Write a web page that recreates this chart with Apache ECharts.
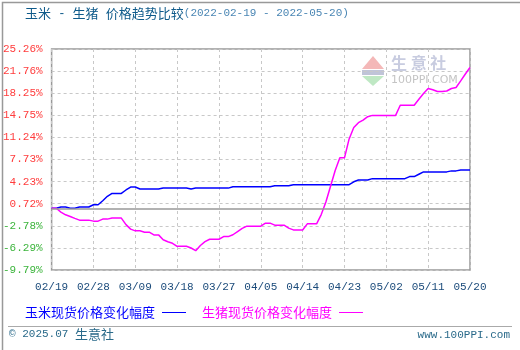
<!DOCTYPE html>
<html><head><meta charset="utf-8">
<script src="https://cdn.jsdelivr.net/npm/echarts@6/dist/echarts.min.js"></script>
<style>html,body{margin:0;padding:0;background:#fff}#c{width:520px;height:350px}</style>
</head><body><div id="c"></div>
<script>
// ---- data ----
const startDate = '2022-02-19';
const dayCount = 91;
const yTickLabels = ['-9.79%','-6.29%','-2.78%','0.72%','4.23%','7.73%','11.24%','14.75%','18.25%','21.76%','25.26%'];
const yMin = -9.79, yMax = 25.26, yStep = 3.505;
const cornSeriesName = '玉米现货价格变化幅度';
const porkSeriesName = '生猪现货价格变化幅度';
const cornValues = [
 0,0,0.2,0.2,0,0,0.2,0.2,0.2,0.56,
 0.56,1.2,1.9,2.36,2.36,2.36,2.9,3.37,3.37,3.05,
 3.05,3.05,3.05,3.05,3.2,3.2,3.2,3.2,3.2,3.2,
 3.05,3.2,3.2,3.2,3.2,3.2,3.2,3.2,3.2,3.42,
 3.42,3.42,3.42,3.42,3.42,3.42,3.42,3.42,3.58,3.58,
 3.58,3.58,3.74,3.74,3.74,3.74,3.74,3.74,3.74,3.74,
 3.74,3.74,3.74,3.74,3.74,4.2,4.49,4.49,4.49,4.7,
 4.7,4.7,4.7,4.7,4.7,4.7,4.7,5.02,5.02,5.4,
 5.77,5.77,5.77,5.77,5.77,5.77,5.93,5.93,6.08,6.08,
 6.08
];
const porkValues = [
 0,0,-0.6,-1.04,-1.3,-1.6,-1.88,-1.88,-1.88,-2.04,
 -2.04,-1.72,-1.72,-1.56,-1.56,-1.56,-2.6,-3.31,-3.58,-3.58,
 -3.79,-3.79,-4.22,-4.22,-5.0,-5.3,-5.55,-6.03,-6.03,-6.03,
 -6.3,-6.72,-5.9,-5.3,-4.91,-4.91,-4.91,-4.49,-4.49,-4.2,
 -3.7,-3.2,-2.84,-2.84,-2.84,-2.84,-2.36,-2.36,-2.68,-2.68,
 -2.68,-3.15,-3.43,-3.45,-3.45,-2.47,-2.47,-2.47,-1.0,1.0,
 3.5,6.0,8.0,8.0,11.0,12.8,13.57,13.99,14.52,14.73,
 14.73,14.73,14.73,14.73,14.73,16.33,16.33,16.33,16.33,17.3,
 18.2,18.99,18.8,18.51,18.51,18.6,19.0,19.15,20.2,21.3,
 22.33
];
// ---- categories (MM/DD, one per day) ----
const categories = [];
(function(){
  const d0 = new Date(startDate + 'T00:00:00Z');
  for (let i = 0; i < dayCount; i++) {
    const d = new Date(d0.getTime() + i * 86400000);
    const m = String(d.getUTCMonth() + 1).padStart(2, '0');
    const dd = String(d.getUTCDate()).padStart(2, '0');
    categories.push(m + '/' + dd);
  }
})();

const chart = echarts.init(document.getElementById('c'), null, {renderer: 'canvas'});
const monoFont = '"Liberation Mono","DejaVu Sans Mono",monospace';
const cjkFont = '"Noto Sans CJK SC","Noto Sans",sans-serif';

chart.setOption({
  animation: false,
  backgroundColor: '#fff',
  grid: {left: 50, right: 50, top: 49, bottom: 80, show: true, borderColor: '#999', borderWidth: 1.5, containLabel: false},
  xAxis: {
    type: 'category', data: categories, boundaryGap: false,
    axisLine: {show: false}, axisTick: {show: false},
    axisLabel: {interval: 8, color: '#1a4a7a', fontFamily: monoFont, fontSize: 11, margin: 12, showMaxLabel: true},
    splitLine: {show: true, interval: 8, lineStyle: {color: '#c8c8c8', type: [3, 3], width: 1}}
  },
  yAxis: {
    type: 'value', min: yMin, max: yMax, interval: yStep,
    axisLine: {show: false}, axisTick: {show: false},
    axisLabel: {
      fontFamily: monoFont, fontSize: 11, margin: 9,
      formatter: function (v) {
        const i = Math.round((v - yMin) / yStep);
        return (i >= 0 && i < yTickLabels.length) ? yTickLabels[i] : '';
      },
      color: function (v) { return v < 0 ? '#3cb43c' : '#ff3c3c'; }
    },
    splitLine: {show: true, lineStyle: {color: '#c8c8c8', type: [3, 3], width: 1}}
  },
  legend: {
    left: 20, top: 301, align: 'right', itemWidth: 24, itemHeight: 1, itemGap: 16,
    icon: 'rect',
    textStyle: {fontFamily: cjkFont, fontSize: 13, padding: [0, 2, 0, 0]},
    data: [
      {name: cornSeriesName, textStyle: {color: '#0000ff'}},
      {name: porkSeriesName, textStyle: {color: '#ff00ff'}}
    ]
  },
  graphic: [
    {type: 'rect', left: 0, top: 0, shape: {width: 519, height: 349}, style: {fill: 'none', stroke: '#999', lineWidth: 1.5}, silent: true},
    {type: 'line', shape: {x1: 8, y1: 326.5, x2: 512, y2: 326.5}, style: {stroke: '#aaa', lineWidth: 1}, silent: true},
    {type: 'text', left: 25, top: 7, style: {
      text: '{c|玉米}{m| - }{c|生猪}{m| }{c|价格趋势比较}{d|(2022-02-19 - 2022-05-20)}',
      rich: {
        c: {fill: '#0e5a8a', font: '13px ' + cjkFont},
        m: {fill: '#0e5a8a', font: '12px ' + monoFont},
        d: {fill: '#4a86b4', font: '11px ' + monoFont}
      }
    }},
    {type: 'text', left: 9, top: 328, style: {
      text: '{m|© 2025.07 }{c|生意社}',
      rich: {
        m: {fill: '#2a6a8a', font: '11px ' + monoFont},
        c: {fill: '#2a6a8a', font: '13px ' + cjkFont}
      }
    }},
    {type: 'text', right: 10, top: 330, style: {text: 'www.100PPI.com', fill: '#2a6a8a', font: '11px ' + monoFont}},
    // watermark
    {type: 'polygon', shape: {points: [[373, 56], [362, 69], [384, 69]]}, style: {fill: '#f4b8b8'}, silent: true},
    {type: 'rect', shape: {x: 362, y: 70, width: 22, height: 5}, style: {fill: '#c0c4d8'}, silent: true},
    {type: 'polygon', shape: {points: [[362, 76], [384, 76], [373, 86]]}, style: {fill: '#bfe8c4'}, silent: true},
    {type: 'text', left: 391, top: 55, style: {text: '生 意 社', fill: '#c8cce0', font: 'bold 16px ' + cjkFont}, silent: true},
    {type: 'text', left: 391, top: 75, style: {text: '100PPI.COM', fill: '#c4c4c4', font: '11px ' + '"DejaVu Sans",sans-serif'}, silent: true}
  ],
  series: [
    {
      name: cornSeriesName, type: 'line', data: cornValues, showSymbol: false, symbol: 'none',
      lineStyle: {color: '#0000ff', width: 1.5}, itemStyle: {color: '#0000ff'}, z: 3,
      markLine: {silent: true, symbol: 'none', label: {show: false}, lineStyle: {color: '#999', type: 'solid', width: 1.5},
        data: [{yAxis: 0}]}
    },
    {
      name: porkSeriesName, type: 'line', data: porkValues, showSymbol: false, symbol: 'none',
      lineStyle: {color: '#ff00ff', width: 1.5}, itemStyle: {color: '#ff00ff'}, z: 4
    }
  ]
});
</script>
</body></html>
